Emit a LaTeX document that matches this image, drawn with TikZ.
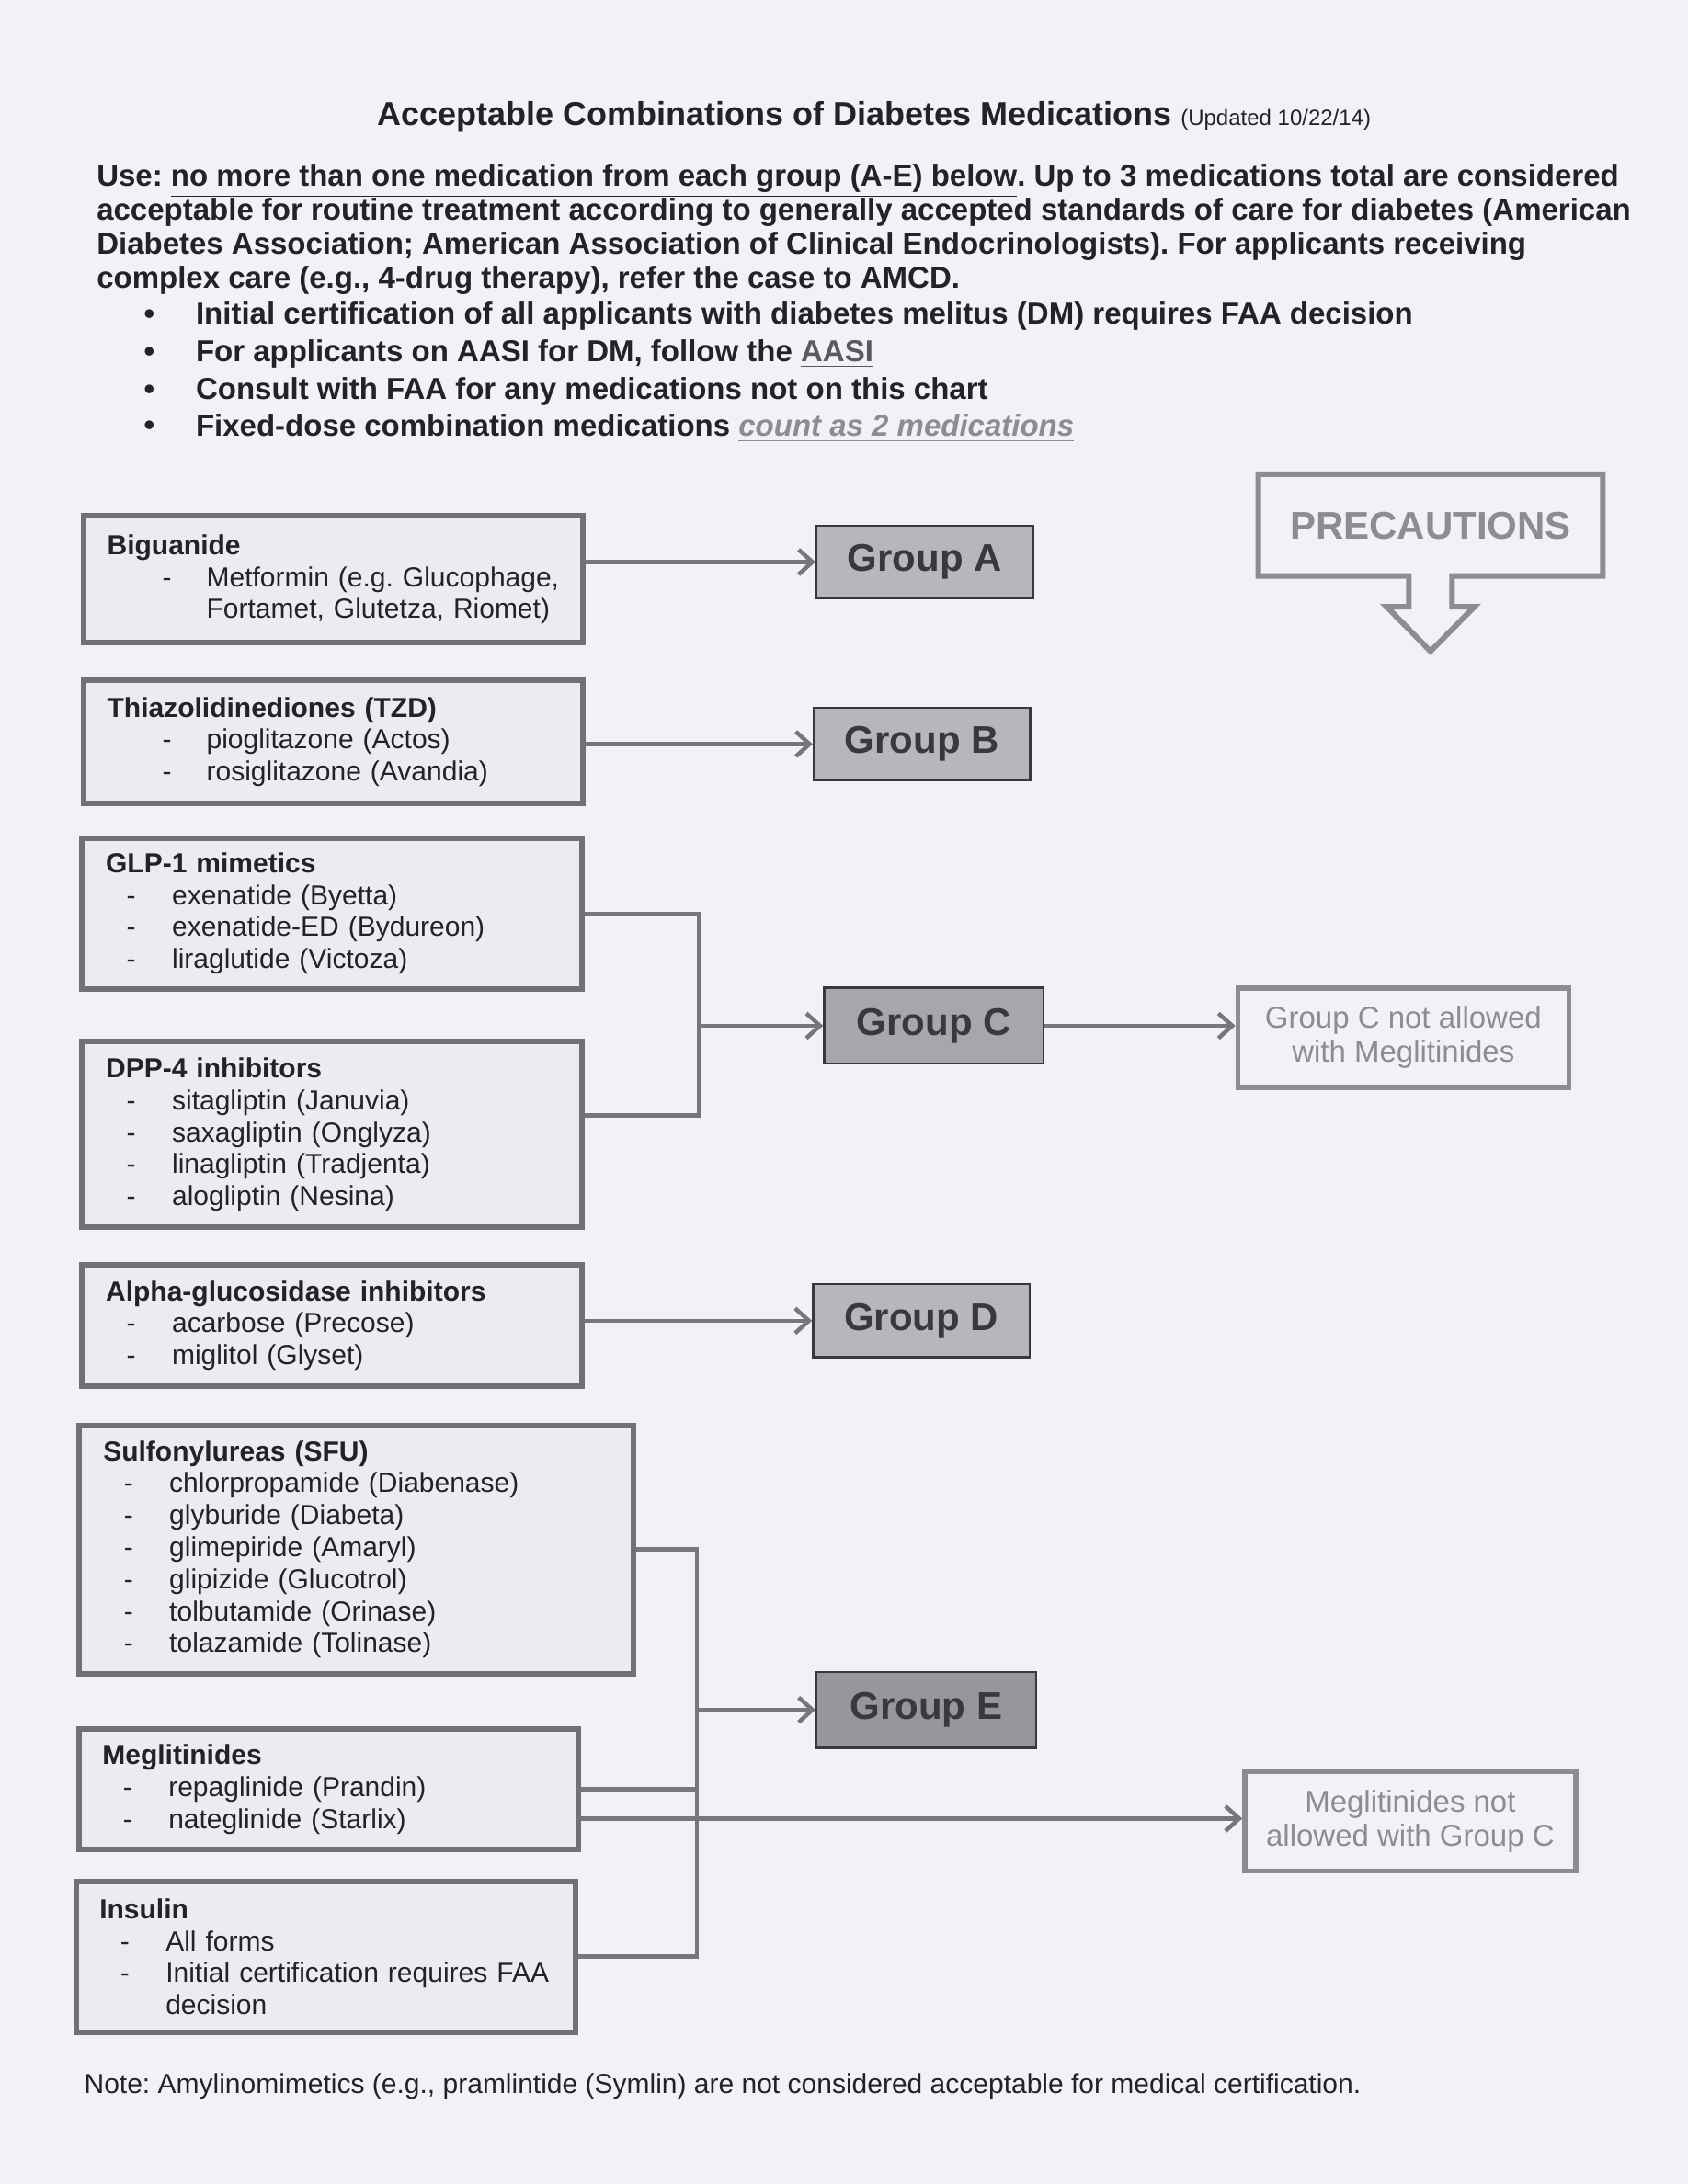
\documentclass[tikz,border=0pt]{standalone}
\usepackage{fontspec}
\setmainfont{Liberation Sans}
\usetikzlibrary{arrows.meta}

\definecolor{paper}{RGB}{241,242,246}
\definecolor{ink}{RGB}{34,34,40}
\definecolor{boxline}{RGB}{112,112,118}
\definecolor{boxfill}{RGB}{235,236,240}
\definecolor{grpA}{RGB}{182,182,188}
\definecolor{grpC}{RGB}{166,166,172}
\definecolor{grpE}{RGB}{150,150,156}
\definecolor{warn}{RGB}{140,140,146}
\definecolor{linkc}{RGB}{118,118,124}

% dash + drug name inside a class box
\newcommand{\drugA}[1]{\mbox{\hspace*{20pt}\makebox[16pt][l]{-}#1}}
\newcommand{\drugB}[1]{\mbox{\hspace*{7.5pt}\makebox[16.5pt][l]{-}#1}}

\tikzset{
    medbox/.style={draw=boxline, line width=2pt, fill=boxfill, text=ink,
        inner xsep=8.6pt, inner ysep=0pt, text width=#1, align=left,
        font=\fontsize{10}{11.6}\selectfont},
    medbox/.default=164pt,
    grpbox/.style={draw=ink!90, line width=0.8pt, fill=#1, text=ink!90,
        minimum width=78.5pt, minimum height=26.5pt,
        font=\fontsize{14}{16}\selectfont\bfseries},
    grpbox/.default=grpA,
    warnbox/.style={draw=warn, line width=1.8pt, text=warn, minimum width=120pt,
        minimum height=36pt, align=center, font=\fontsize{11}{12.4}\selectfont},
    link/.style={draw=linkc, line width=1.5pt},
    arr/.style={link, -{Straight Barb[length=5pt,width=9pt]}},
    txt/.style={inner sep=0pt, text=ink},
}

\begin{document}
\frenchspacing
\begin{tikzpicture}[x=0.5058pt, y=-0.5058pt]
    \fill[paper] (0,0) rectangle (1210,1566);
    \useasboundingbox (0,0) rectangle (1210,1566);

    % heading and rules of use
    \node[txt, anchor=west, font=\fontsize{12}{14}\selectfont\bfseries] (title)
        at (270,84) {Acceptable Combinations of Diabetes Medications
        {\fontsize{8}{10}\selectfont\mdseries (Updated 10/22/14)}};
    \node[txt, anchor=north west, align=left,
        font=\fontsize{11}{12.35}\selectfont\bfseries] (use) at (69,117)
        {Use: \underline{no more than one medication from each group (A-E) below}. Up to 3 medications total are considered\\
        acceptable for routine treatment according to generally accepted standards of care for diabetes (American\\
        Diabetes Association; American Association of Clinical Endocrinologists). For applicants receiving\\
        complex care (e.g., 4-drug therapy), refer the case to AMCD.};
    \foreach \y/\t [count=\k] in {
        227/{Initial certification of all applicants with diabetes melitus (DM) requires FAA decision},
        254/{For applicants on AASI for DM, follow the \textcolor{ink!75}{\underline{AASI}}},
        281/{Consult with FAA for any medications not on this chart},
        307/{Fixed-dose combination medications \textcolor{warn}{\underline{\textit{count as 2 medications}}}}}{
        \node[txt, font=\fontsize{11}{12}\selectfont\bfseries] (dot\k) at (107,\y) {\textbullet};
        \node[txt, anchor=west, font=\fontsize{11}{12}\selectfont\bfseries] (bul\k) at (140,\y) {\t};
    }

    % drug classes
    \node[medbox, minimum height=46pt] (bigu) at (239,415.5)
        {\textbf{Biguanide}\\ \drugA{Metformin (e.g. Glucophage,}\\ \hspace*{36pt}Fortamet, Glutetza, Riomet)};
    \node[medbox, minimum height=44.5pt] (tzd) at (239,532)
        {\textbf{Thiazolidinediones (TZD)}\\ \drugA{pioglitazone (Actos)}\\ \drugA{rosiglitazone (Avandia)}};
    \node[medbox, minimum height=54.6pt] (glp) at (238,655)
        {\textbf{GLP-1 mimetics}\\ \drugB{exenatide (Byetta)}\\ \drugB{exenatide-ED (Bydureon)}\\ \drugB{liraglutide (Victoza)}};
    \node[medbox, minimum height=67.3pt] (dpp) at (238,813.5)
        {\textbf{DPP-4 inhibitors}\\ \drugB{sitagliptin (Januvia)}\\ \drugB{saxagliptin (Onglyza)}\\
        \drugB{linagliptin (Tradjenta)}\\ \drugB{alogliptin (Nesina)}};
    \node[medbox, minimum height=44pt] (agi) at (238,950.5)
        {\textbf{Alpha-glucosidase inhibitors}\\ \drugB{acarbose (Precose)}\\ \drugB{miglitol (Glyset)}};
    \node[medbox=183.6pt, minimum height=90pt] (sfu) at (255.5,1111)
        {\textbf{Sulfonylureas (SFU)}\\ \drugB{chlorpropamide (Diabenase)}\\ \drugB{glyburide (Diabeta)}\\
        \drugB{glimepiride (Amaryl)}\\ \drugB{glipizide (Glucotrol)}\\ \drugB{tolbutamide (Orinase)}\\
        \drugB{tolazamide (Tolinase)}};
    \node[medbox, minimum height=43.5pt] (megl) at (235.5,1283)
        {\textbf{Meglitinides}\\ \drugB{repaglinide (Prandin)}\\ \drugB{nateglinide (Starlix)}};
    \node[medbox, minimum height=54.6pt] (insu) at (233.5,1403)
        {\textbf{Insulin}\\ \drugB{All forms}\\ \drugB{Initial certification requires FAA}\\ \hspace*{24pt}decision};

    % groups
    \node[grpbox] (ga) at (663,403) {Group A};
    \node[grpbox] (gb) at (661,533.5) {Group B};
    \node[grpbox=grpC, minimum width=79.5pt, minimum height=27.5pt] (gc) at (669.5,735.5) {Group C};
    \node[grpbox] (gd) at (660.5,947) {Group D};
    \node[grpbox=grpE, minimum width=79.5pt, minimum height=27.5pt] (ge) at (664,1226) {Group E};

    % precautions
    \draw[warn, line width=2pt] (902,340) -- (1149,340) -- (1149,413) -- (1041,413)
        -- (1041,435) -- (1057,435) -- (1025.5,467) -- (994,435) -- (1010,435)
        -- (1010,413) -- (902,413) -- cycle;
    \node[text=warn, font=\fontsize{14}{16}\selectfont\bfseries] (prec) at (1025.5,377) {PRECAUTIONS};
    \node[warnbox] (pcc) at (1006,744) {Group C not allowed\\with Meglitinides};
    \node[warnbox] (pcm) at (1011,1306) {Meglitinides not\\allowed with Group C};

    % connectors
    \draw[arr] (ga.west -| bigu.east) -- (ga.west);
    \draw[arr] (gb.west -| tzd.east) -- (gb.west);
    \coordinate (jc) at ([xshift=-45pt]gc.west);
    \draw[link] (glp.east) -| (jc) |- ([yshift=7pt]dpp.east);
    \draw[arr] (jc) -- (gc.west);
    \draw[arr] (gc.east) -- (gc.east -| pcc.west);
    \draw[arr] (gd.west -| agi.east) -- (gd.west);
    \coordinate (je) at ([xshift=-43pt]ge.west);
    \draw[link] (sfu.east) -| (je |- insu.east) -- (insu.east);
    \draw[link] (megl.east) -- (megl.east -| je);
    \draw[arr] (je) -- (ge.west);
    \draw[arr] ([yshift=-10.6pt]megl.east) -- ([yshift=-10.6pt]megl.east -| pcm.west);

    \node[txt, anchor=west, font=\fontsize{10}{12}\selectfont] (note) at (60,1496)
        {Note: Amylinomimetics (e.g., pramlintide (Symlin) are not considered acceptable for medical certification.};
\end{tikzpicture}
\end{document}
